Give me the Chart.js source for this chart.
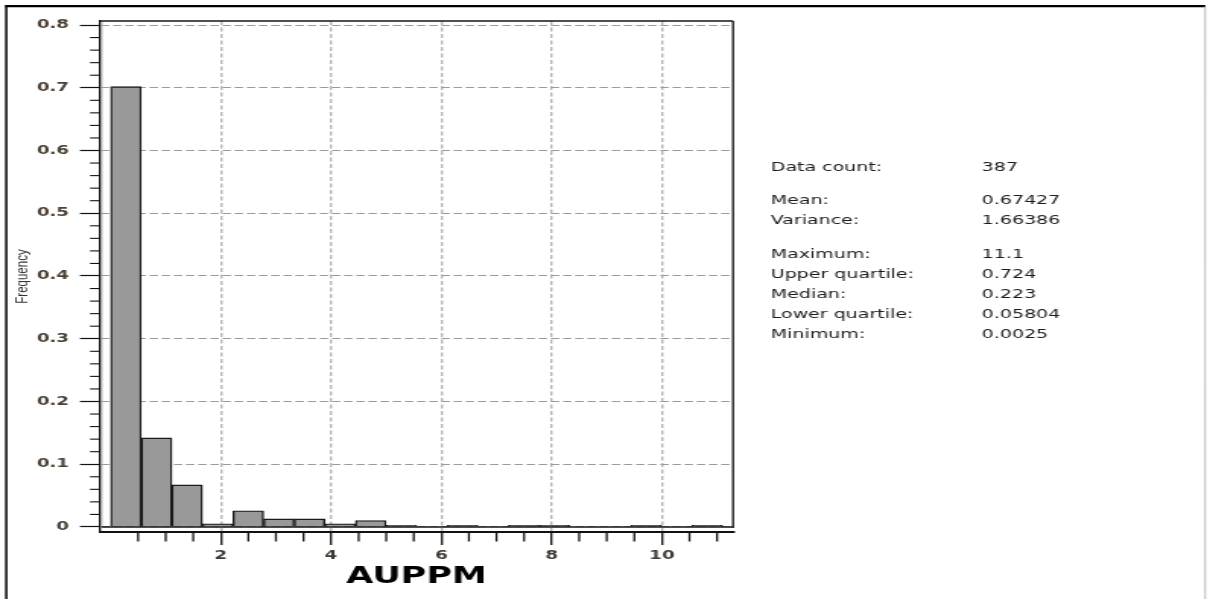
<!DOCTYPE html>
<html>
<head>
<meta charset="utf-8">
<title>AUPPM histogram</title>
<script src="https://cdn.jsdelivr.net/npm/chart.js@4.4.1/dist/chart.umd.min.js"></script>
<style>
  html, body { margin: 0; padding: 0; background: #fff; overflow: hidden; }
  /* the plot is laid out on a narrow canvas and widened horizontally */
  #wrap { position: absolute; left: 0; top: 0; width: 794px; height: 599px;
          transform: scaleX(1.52015); transform-origin: 0 0; }
</style>
</head>
<body>
<div id="wrap"><canvas id="c" width="794" height="599"></canvas></div>
<script>
// Histogram bins (AUPPM) and relative frequency per bin
const binEdges = [0.0025, 0.5574, 1.1123, 1.6671, 2.2220, 2.7769, 3.3318, 3.8866, 4.4415,
                  4.9964, 5.5513, 6.1061, 6.6610, 7.2159, 7.7708, 8.3256, 8.8805, 9.4354,
                  9.9903, 10.5451, 11.1];
const frequency = [0.7018, 0.1421, 0.0672, 0.0052, 0.0258, 0.0129, 0.0129, 0.0052, 0.0103, 0.0026,
                   0, 0.0026, 0, 0.0026, 0.0026, 0, 0, 0.0026, 0, 0.0026];

// Axis ticks
const xMajorTicks = [2, 4, 6, 8, 10];
const xMinorTicks = [0.5, 1, 1.5, 2.5, 3, 3.5, 4.5, 5, 5.5, 6.5, 7, 7.5, 8.5, 9, 9.5, 10.5, 11];
const yMajorTicks = [0, 0.1, 0.2, 0.3, 0.4, 0.5, 0.6, 0.7, 0.8];
const yTickLabels = ['0', '0.1', '0.2', '0.3', '0.4', '0.5', '0.6', '0.7', '0.8'];
const yMinorStep = 0.02;

// Summary statistics panel
const statLabels = ['Data count:', 'Mean:', 'Variance:', 'Maximum:', 'Upper quartile:', 'Median:', 'Lower quartile:', 'Minimum:'];
const statValues = ['387', '0.67427', '1.66386', '11.1', '0.724', '0.223', '0.05804', '0.0025'];
const statGroups = [0, 1, 1, 2, 2, 2, 2, 2];

const barPoints = frequency.map((f, i) => ({ x: (binEdges[i] + binEdges[i + 1]) / 2, y: f }));

function strokeLine(ctx, x1, y1, x2, y2) {
  ctx.beginPath(); ctx.moveTo(x1, y1); ctx.lineTo(x2, y2); ctx.stroke();
}

const histogramDecor = {
  id: 'histogramDecor',
  afterDatasetsDraw(chart) {
    const { ctx, chartArea: a, scales: { y } } = chart;
    const y0 = y.getPixelForValue(0);
    ctx.save();
    // inner plot frame
    ctx.strokeStyle = '#b0b0b0'; ctx.lineWidth = 0.7;
    strokeLine(ctx, a.left + 1.3, a.top, a.left + 1.3, y0);
    ctx.strokeStyle = '#151515'; ctx.lineWidth = 1.3;
    strokeLine(ctx, a.left + 1, y0, a.right, y0);
    strokeLine(ctx, a.left, a.top, a.right, a.top);
    strokeLine(ctx, a.right, a.top, a.right, y0 + 1);
    ctx.restore();
  },
  afterDraw(chart) {
    const { ctx, chartArea: a, scales: { x, y } } = chart;
    ctx.save();
    ctx.strokeStyle = '#111';
    // minor ticks on the frequency axis
    ctx.lineWidth = 1.1;
    for (let v = yMinorStep; v < 0.8; v += yMinorStep) {
      const r = Math.round(v * 100) / 100;
      if (Math.abs(r * 10 - Math.round(r * 10)) < 1e-6) continue;
      const py = y.getPixelForValue(r);
      strokeLine(ctx, a.left - 6.6, py, a.left, py);
    }
    // minor ticks on the AUPPM axis
    ctx.lineWidth = 1.3;
    xMinorTicks.forEach(v => {
      const px = x.getPixelForValue(v);
      strokeLine(ctx, px, a.bottom, px, a.bottom + 9.5);
    });
    // page frame
    ctx.strokeStyle = '#000'; ctx.lineWidth = 2.2;
    strokeLine(ctx, 3.4, 6.2, 793, 6.2);
    ctx.lineWidth = 1.5;
    strokeLine(ctx, 4.1, 5.2, 4.1, chart.height);
    ctx.strokeStyle = '#a8a8a8'; ctx.lineWidth = 0.8;
    strokeLine(ctx, 792.8, 6.2, 792.8, chart.height);
    // statistics
    ctx.fillStyle = '#1c1c1c';
    ctx.font = '12.5px "DejaVu Sans"';
    ctx.textBaseline = 'alphabetic';
    ctx.textAlign = 'left';
    statLabels.forEach((lbl, i) => {
      const ty = 170.5 + i * 20.1 + statGroups[i] * 13.5;
      ctx.fillText(lbl, 507, ty);
      ctx.fillText(statValues[i], 645.8, ty);
    });
    ctx.restore();
  }
};

new Chart(document.getElementById('c'), {
  type: 'bar',
  data: {
    datasets: [{
      data: barPoints,
      backgroundColor: '#999999',
      borderColor: '#1a1a1a',
      borderWidth: 1.4,
      barPercentage: 1,
      categoryPercentage: 1
    }]
  },
  options: {
    responsive: false,
    animation: false,
    layout: { padding: { left: 0, top: 21, right: 311.8, bottom: 0 } },
    plugins: { legend: { display: false }, tooltip: { enabled: false } },
    scales: {
      x: {
        type: 'linear',
        min: -0.19,
        max: 11.29,
        offset: false,
        afterBuildTicks: s => { s.ticks = xMajorTicks.map(v => ({ value: v })); },
        afterFit: s => { s.height = 67; },
        grid: { offset: false, color: '#b4b4b4', lineWidth: 1.4, tickColor: '#111', tickWidth: 1.3,
                tickLength: 13, tickBorderDash: [] },
        border: { display: true, color: '#111', width: 2, dash: [4, 2.5] },
        ticks: { color: '#3f3a35', padding: 4, autoSkip: false, maxRotation: 0,
                 font: { family: 'DejaVu Sans', size: 12, weight: 'bold' } },
        title: { display: true, text: 'AUPPM', color: '#000',
                 font: { family: 'DejaVu Sans', size: 23, weight: 'bold' },
                 padding: { top: 0, bottom: 8 } }
      },
      y: {
        type: 'linear',
        min: -0.008,
        max: 0.8064,
        afterBuildTicks: s => { s.ticks = yMajorTicks.map(v => ({ value: v })); },
        afterFit: s => { s.width = 65.8; },
        grid: { color: '#9a9a9a', lineWidth: 1, tickColor: '#111', tickWidth: 1.2,
                tickLength: 13.2, tickBorderDash: [] },
        border: { display: true, color: '#111', width: 1.4, dash: [5.5, 2.5] },
        ticks: { color: '#4b4035', padding: 7.2, autoSkip: false,
                 callback: (v, i) => yTickLabels[i],
                 font: { family: 'DejaVu Sans', size: 12, weight: 'bold' } },
        title: { display: true, text: 'Frequency', color: '#333',
                 font: { family: 'Liberation Sans', size: 11.5 },
                 padding: { top: 7.6, bottom: 0 } }
      }
    }
  },
  plugins: [histogramDecor]
});
</script>
</body>
</html>
